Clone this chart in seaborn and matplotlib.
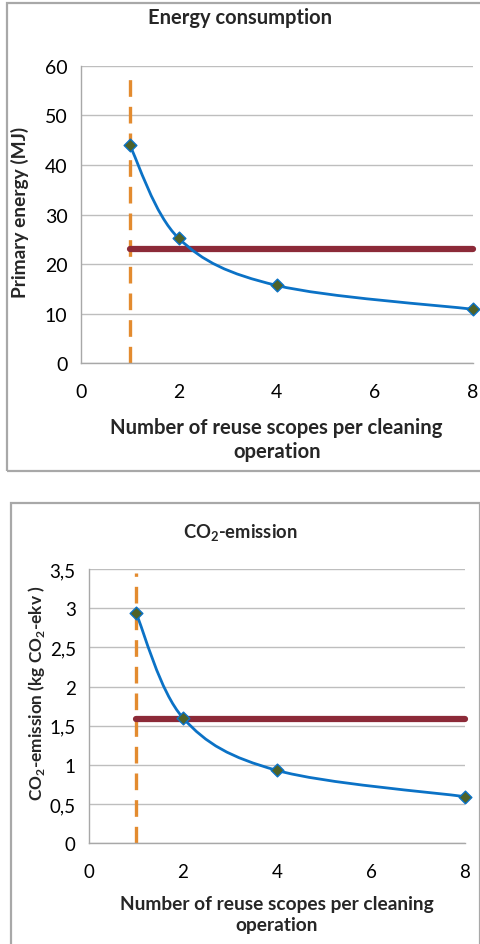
"""Energiforbrukning och CO2-utslapp per rengoring - tva paneler."""

import matplotlib.pyplot as plt
import numpy as np
import pandas as pd
import seaborn as sns
from matplotlib.patches import PathPatch, Rectangle
from matplotlib.path import Path

# --- data ---
reuse_scopes = [1, 2, 4, 8]
energy_mj = [44.0, 25.2, 15.7, 10.9]
co2_kg = [2.94, 1.60, 0.93, 0.595]

energy_reference = 23.0
co2_reference = 1.58
reference_x = [1, 8]
dashed_x = 1

energy_ticks = [0, 10, 20, 30, 40, 50, 60]
co2_ticks = [0, 0.5, 1, 1.5, 2, 2.5, 3, 3.5]
co2_tick_labels = ["0", "0,5", "1", "1,5", "2", "2,5", "3", "3,5"]
x_ticks = [0, 2, 4, 6, 8]

BLUE = "#0B72C6"
GREEN = "#4F6228"
BROWN = "#8C2A38"
ORANGE = "#E38B2F"
GRID = "#BEBEBE"
FRAME = "#A8A8A8"

sns.set_style("white")
plt.rcParams["font.family"] = ["Lato", "DejaVu Sans"]
plt.rcParams["mathtext.fontset"] = "custom"
plt.rcParams["mathtext.rm"] = "Lato"
plt.rcParams["mathtext.bf"] = "Lato:bold"


def smooth_path(xs, ys):
    """Catmull-Rom -> kubiska Bezier-segment (som Excels utjamnade linje)."""
    pts = np.column_stack([xs, ys]).astype(float)
    n = len(pts)
    verts = [pts[0]]
    codes = [Path.MOVETO]
    for i in range(n - 1):
        p0 = pts[max(i - 1, 0)]
        p1 = pts[i]
        p2 = pts[i + 1]
        p3 = pts[min(i + 2, n - 1)]
        verts += [p1 + (p2 - p0) / 6, p2 - (p3 - p1) / 6, p2]
        codes += [Path.CURVE4] * 3
    return Path(verts, codes)


def panel(ax, values, ref_value, ymax, yticks, yticklabels, tick_size):
    df = pd.DataFrame({"reuse": reuse_scopes, "value": values})
    ax.yaxis.grid(True, color=GRID, lw=1.0)
    ax.set_axisbelow(True)

    # streckad vertikal linje vid x = 1
    ax.plot([dashed_x, dashed_x], [0, ymax * 0.985], color=ORANGE, lw=2.4,
            dashes=(5.0, 3.0), zorder=2)
    # referensniva
    ref = pd.DataFrame({"x": reference_x, "y": [ref_value, ref_value]})
    sns.lineplot(data=ref, x="x", y="y", ax=ax, color=BROWN, lw=4.5,
                 solid_capstyle="round", zorder=3, clip_on=False)
    # utjamnad kurva + markorer
    ax.add_patch(PathPatch(smooth_path(df["reuse"], df["value"]), fill=False,
                           edgecolor=BLUE, lw=2.0, zorder=4))
    sns.scatterplot(data=df, x="reuse", y="value", ax=ax, marker="D", s=42,
                    color=GREEN, edgecolor=BLUE, linewidth=1.0, zorder=5,
                    clip_on=False)

    ax.set_xlim(0, 8)
    ax.set_ylim(0, ymax)
    ax.set_xticks(x_ticks)
    ax.set_yticks(yticks)
    ax.set_yticklabels(yticklabels)
    ax.set_xlabel("")
    ax.set_ylabel("")
    for side in ("top", "right"):
        ax.spines[side].set_visible(False)
    for side in ("left", "bottom"):
        ax.spines[side].set_color(FRAME)
        ax.spines[side].set_linewidth(1.0)
    ax.tick_params(axis="both", which="major", direction="out", length=5.5,
                   width=1.0, color=FRAME, labelsize=tick_size,
                   labelcolor="black")
    ax.tick_params(axis="y", pad=4)
    ax.tick_params(axis="x", pad=9)
    ax.set_facecolor("none")


W, H = 481, 945
fig = plt.figure(figsize=(W / 100, H / 100), dpi=100)

# ramar runt panelerna
fig.add_artist(Rectangle((7 / W, 1 - 472 / H), 480 / W, 468 / H,
                         transform=fig.transFigure, fill=False,
                         edgecolor=FRAME, lw=1.6))
fig.add_artist(Rectangle((11 / W, -0.02), 469 / W, 1 - 504 / H + 0.02,
                         transform=fig.transFigure, fill=False,
                         edgecolor=FRAME, lw=1.6))

ax1 = fig.add_axes([80.7 / W, 1 - 364.3 / H, 392 / W, 297.6 / H])
panel(ax1, energy_mj, energy_reference, 60, energy_ticks,
      [str(t) for t in energy_ticks], 14)

ax2 = fig.add_axes([89 / W, 1 - 844.3 / H, 376 / W, 274.3 / H])
panel(ax2, co2_kg, co2_reference, 3.5, co2_ticks, co2_tick_labels, 13.5)

xlabel = "Number of reuse scopes per cleaning\noperation"

fig.text(240 / W, 1 - 18 / H, "Energy consumption", ha="center",
         va="center", fontsize=14.5, fontweight="bold")
fig.text(20 / W, 1 - 212 / H, "Primary energy (MJ)", ha="center",
         va="center", rotation=90, fontsize=13.8, fontweight="bold")
fig.text(276.7 / W, 1 - 440 / H, xlabel, ha="center", va="center",
         fontsize=14.6, fontweight="bold", linespacing=1.25)

fig.text(240 / W, 1 - 533 / H, r"CO$_\mathbf{2}$-emission", ha="center",
         va="center", fontsize=13.2, fontweight="bold")
fig.text(37 / W, 1 - 693 / H, r"CO$_\mathbf{2}$-emission (kg CO$_\mathbf{2}$-ekv )",
         ha="center", va="center", rotation=90, fontsize=12.4,
         fontweight="bold")
fig.text(277 / W, 1 - 915 / H, xlabel, ha="center", va="center",
         fontsize=13.8, fontweight="bold", linespacing=1.25)

fig.savefig("out.png", dpi=100)
